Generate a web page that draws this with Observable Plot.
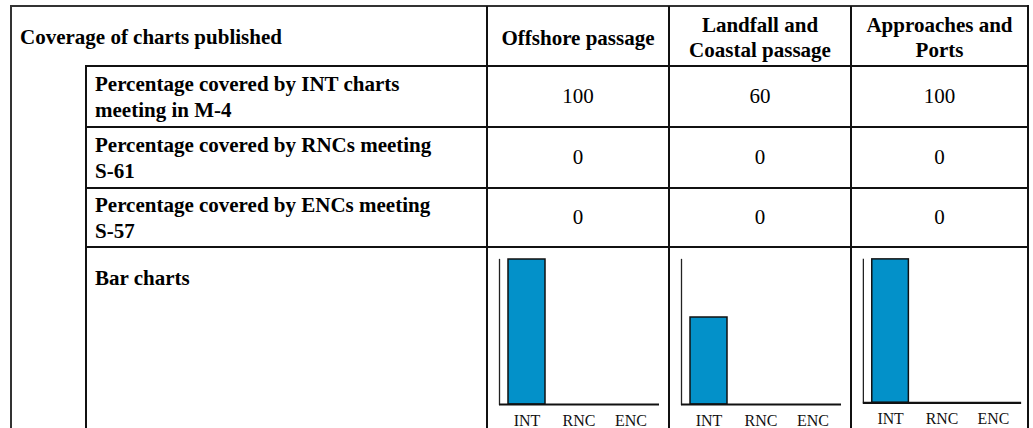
<!DOCTYPE html>
<html>
<head>
<meta charset="utf-8">
<script src="https://cdn.jsdelivr.net/npm/d3@7"></script>
<script src="https://cdn.jsdelivr.net/npm/@observablehq/plot@0.6"></script>
<style>
  html, body { margin: 0; padding: 0; background: #fff; }
  #wrap { position: relative; width: 1033px; height: 428px; overflow: hidden; font-family: "Liberation Serif", "Times New Roman", serif; color: #000; }
  .line { position: absolute; background: #111; }
  .cell { position: absolute; display: flex; align-items: center; box-sizing: border-box; font-size: 21px; line-height: 25px; }
  .bold { font-weight: bold; }
  .center { justify-content: center; text-align: center; }
  .chart { position: absolute; }
</style>
</head>
<body>
<div id="wrap"></div>
<script>
// ---- data ----
const tableTitle = "Coverage of charts published";
const columnHeaders = [["Offshore passage"], ["Landfall and", "Coastal passage"], ["Approaches and", "Ports"]];
const rowLabels = [
  ["Percentage covered by INT charts", "meeting in M-4"],
  ["Percentage covered by RNCs meeting", "S-61"],
  ["Percentage covered by ENCs meeting", "S-57"]
];
const chartTypes = ["INT", "RNC", "ENC"];
const intValues = [100, 60, 100];
const rncValues = [0, 0, 0];
const encValues = [0, 0, 0];
const barRowLabel = "Bar charts";

// ---- layout ----
const wrap = document.getElementById("wrap");
const colX = [487, 669, 851, 1028];
const rowY = [6, 66, 127, 188, 247];
const leftX = 11, indentX = 86, bottomY = 428;

function line(x, y, w, h, color) {
  const d = document.createElement("div");
  d.className = "line";
  Object.assign(d.style, {left: x + "px", top: y + "px", width: w + "px", height: h + "px"});
  if (color) d.style.background = color;
  wrap.appendChild(d);
}
function cell(x, y, w, h, lines, cls, extra) {
  const d = document.createElement("div");
  d.className = "cell " + cls;
  Object.assign(d.style, {left: x + "px", top: y + "px", width: w + "px", height: h + "px"}, extra || {});
  const inner = document.createElement("div");
  lines.forEach((t, i) => { if (i) inner.appendChild(document.createElement("br")); inner.appendChild(document.createTextNode(t)); });
  d.appendChild(inner);
  wrap.appendChild(d);
}

// grid lines
line(leftX - 1, rowY[0] - 1, colX[3] - leftX + 2, 2, "#333");
line(leftX - 1, rowY[0] - 1, 2, bottomY, "#333");
line(colX[3] - 1, rowY[0] - 1, 2, bottomY);
colX.slice(0, 3).forEach(x => line(x - 1, rowY[0], 2, bottomY));
line(indentX - 1, rowY[1] - 1, 2, bottomY);
rowY.slice(1).forEach(y => line(indentX - 1, y - 1, colX[3] - indentX + 1, 2));

// header
cell(leftX, rowY[0], colX[0] - leftX, rowY[1] - rowY[0], [tableTitle], "bold", {paddingLeft: "9px", paddingTop: "3px"});
columnHeaders.forEach((h, i) => cell(colX[i], rowY[0], colX[i + 1] - colX[i], rowY[1] - rowY[0], h, "bold center", {paddingTop: "4px"}));

// value rows
const valueRows = [intValues, rncValues, encValues];
rowLabels.forEach((lab, r) => {
  cell(indentX, rowY[r + 1], colX[0] - indentX, rowY[r + 2] - rowY[r + 1], lab, "bold", {paddingLeft: "9px", lineHeight: "26.5px", paddingTop: "1px"});
  valueRows[r].forEach((v, i) => cell(colX[i], rowY[r + 1], colX[i + 1] - colX[i], rowY[r + 2] - rowY[r + 1], [String(v)], "center"));
});

// bar chart row
cell(indentX, rowY[4], colX[0] - indentX, 60, [barRowLabel], "bold", {alignItems: "flex-start", paddingLeft: "9px", paddingTop: "19px"});

columnHeaders.forEach((h, i) => {
  const data = chartTypes.map((t, k) => ({type: t, value: [intValues, rncValues, encValues][k][i]}));
  const chart = Plot.plot({
    width: 184,
    height: 181,
    marginLeft: 12,
    marginRight: 12,
    marginTop: 11,
    marginBottom: 25,
    x: {domain: chartTypes, paddingInner: 0.283, paddingOuter: 0.151, label: null},
    y: {domain: [0, 100], axis: null},
    style: {fontFamily: "'Liberation Serif', 'Times New Roman', serif", fontSize: "16px", color: "#111", background: "transparent", overflow: "visible"},
    marks: [
      Plot.frame({anchor: "left", stroke: "#222", strokeWidth: 1.3}),
      Plot.barY(data, {x: "type", y: "value", fill: "#0391c9", stroke: "#111", strokeWidth: 1.5}),
      Plot.ruleY([0], {stroke: "#111", strokeWidth: 2.2}),
      Plot.axisX({tickSize: 0, tickPadding: 10, fill: "#111"})
    ]
  });
  const holder = document.createElement("div");
  holder.className = "chart";
  holder.style.left = colX[i] + "px";
  holder.style.top = (rowY[4] + 1) + "px";
  holder.appendChild(chart);
  wrap.appendChild(holder);
});
</script>
</body>
</html>
